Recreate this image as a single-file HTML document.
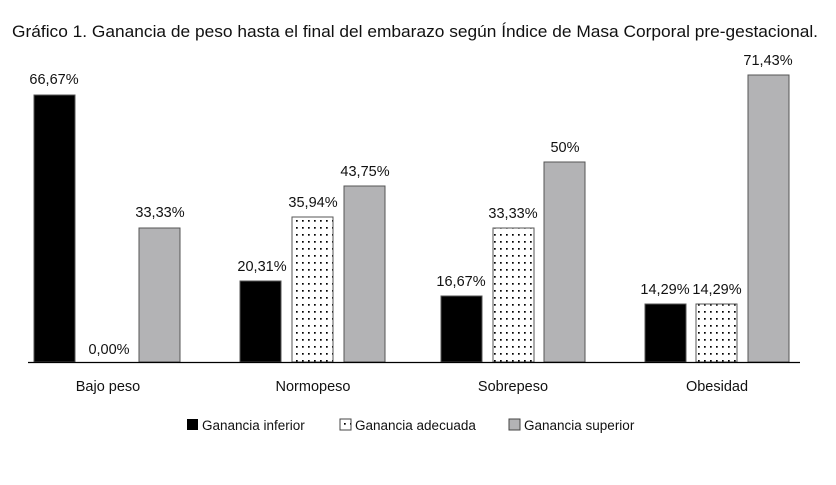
<!DOCTYPE html><html><head><style>body{margin:0;background:#fff}svg text{font-family:"Liberation Sans",sans-serif;fill:#111}</style></head><body>
<svg width="836" height="480" xmlns="http://www.w3.org/2000/svg">
<defs><pattern id="d" width="6" height="7" patternUnits="userSpaceOnUse"><rect width="6" height="7" fill="#fff"/><rect x="2" y="3" width="1.7" height="1.7" fill="#000"/></pattern></defs>
<text x="12" y="37" font-size="16.5" textLength="806" lengthAdjust="spacingAndGlyphs">Gráfico 1. Ganancia de peso hasta el final del embarazo según Índice de Masa Corporal pre-gestacional.</text>
<g stroke="#555" stroke-width="1">
<rect x="34" y="95" width="41" height="267" fill="#000"/>
<rect x="139" y="228" width="41" height="134" fill="#b3b3b5"/>
<rect x="240" y="281" width="41" height="81" fill="#000"/>
<rect x="292" y="217" width="41" height="145" fill="url(#d)"/>
<rect x="344" y="186" width="41" height="176" fill="#b3b3b5"/>
<rect x="441" y="296" width="41" height="66" fill="#000"/>
<rect x="493" y="228" width="41" height="134" fill="url(#d)"/>
<rect x="544" y="162" width="41" height="200" fill="#b3b3b5"/>
<rect x="645" y="304" width="41" height="58" fill="#000"/>
<rect x="696" y="304" width="41" height="58" fill="url(#d)"/>
<rect x="748" y="75" width="41" height="287" fill="#b3b3b5"/>
</g>
<line x1="28" y1="362.5" x2="800" y2="362.5" stroke="#000" stroke-width="1.2"/>
<g font-size="14.5" text-anchor="middle">
<text x="54" y="84">66,67%</text><text x="109" y="354">0,00%</text><text x="160" y="217">33,33%</text>
<text x="262" y="271">20,31%</text><text x="313" y="207">35,94%</text><text x="365" y="176">43,75%</text>
<text x="461" y="286">16,67%</text><text x="513" y="218">33,33%</text><text x="565" y="152">50%</text>
<text x="665" y="294">14,29%</text><text x="717" y="294">14,29%</text><text x="768" y="65">71,43%</text>
<text x="108" y="391">Bajo peso</text><text x="313" y="391">Normopeso</text><text x="513" y="391">Sobrepeso</text><text x="717" y="391">Obesidad</text>
</g>
<g font-size="13.5">
<rect x="187" y="419" width="11" height="11" fill="#000"/><text x="202" y="430">Ganancia inferior</text>
<rect x="340" y="419" width="11" height="11" fill="url(#d)" stroke="#444"/><text x="355" y="430">Ganancia adecuada</text>
<rect x="509" y="419" width="11" height="11" fill="#b3b3b5" stroke="#444"/><text x="524" y="430">Ganancia superior</text>
</g>
</svg></body></html>
